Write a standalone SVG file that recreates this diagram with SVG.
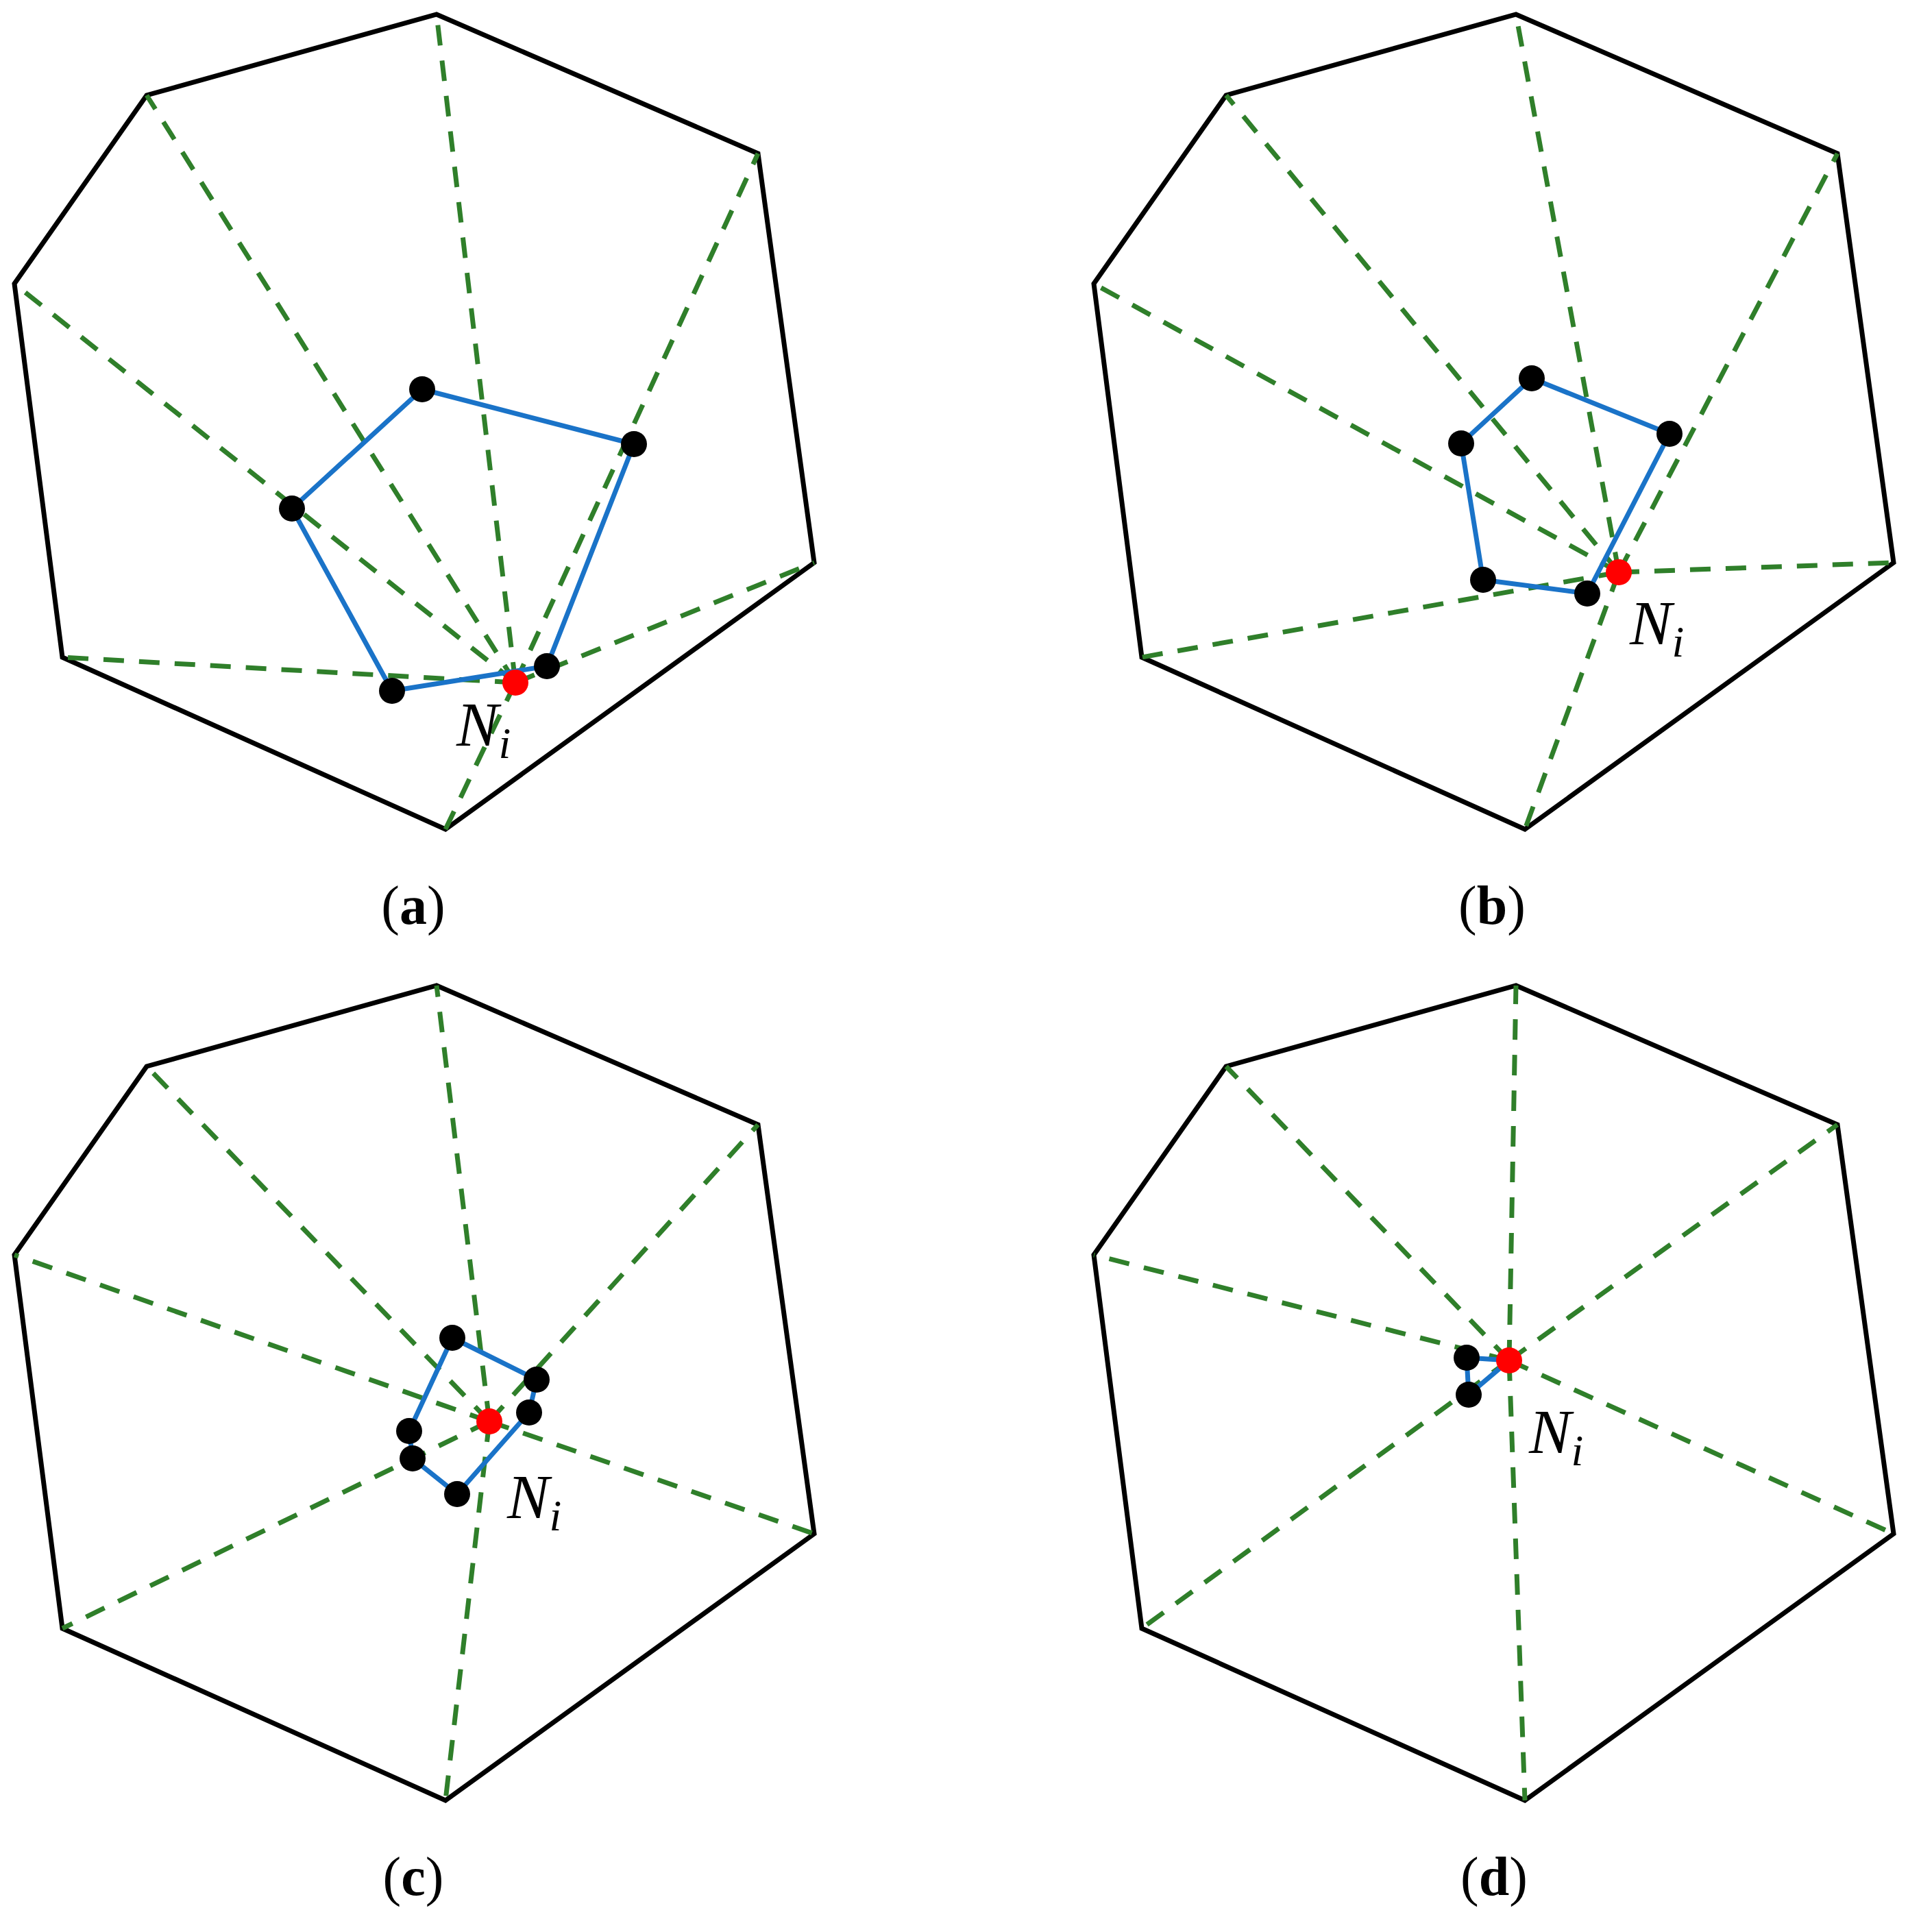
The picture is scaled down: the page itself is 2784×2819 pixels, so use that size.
<svg xmlns="http://www.w3.org/2000/svg" xmlns:xlink="http://www.w3.org/1999/xlink" width="2784" height="2819" viewBox="0 0 2784 2819">
<style>
.hept{fill:none;stroke:#000;stroke-width:7;stroke-linejoin:miter}
.dash{stroke:#2f7f2a;stroke-width:7;stroke-dasharray:30 22;fill:none}
.blue{fill:none;stroke:#1a73c8;stroke-width:7;stroke-linejoin:round}
.dot{fill:#000}
.red{fill:#ff0000}
.lab{font-family:"Liberation Serif",serif;font-size:80px;text-anchor:middle}
.ni{font-family:"Liberation Serif",serif;font-style:italic;font-size:92px}
</style>
<defs>
<polygon id="hp" class="hept" points="637,21 1106,224 1188,821 650,1210 91,959 21,414 214,139"/>
</defs>
<rect width="2784" height="2819" fill="#fff"/>
<g id="panel-a">
<use xlink:href="#hp"/>
<g id="connectors-a">
<path class="dash" d="M752,996L637,21M752,996L1106,224M752,996L1188,821M752,996L650,1210M752,996L91,959M752,996L21,414M752,996L214,139"/>
<polygon class="blue" points="616,568 925,648 798,972 572,1008 426,742"/>
</g>
<circle class="dot" cx="616" cy="568" r="19"/><circle class="dot" cx="925" cy="648" r="19"/><circle class="dot" cx="798" cy="972" r="19"/><circle class="dot" cx="572" cy="1008" r="19"/><circle class="dot" cx="426" cy="742" r="19"/>
<circle class="red" cx="752" cy="996" r="19"/>
<text class="ni" x="666" y="1088">N<tspan font-size="64" dy="18">i</tspan></text>
<text class="lab" x="603" y="1348">(<tspan font-weight="bold">a</tspan>)</text>
</g>
<g id="panel-b" transform="translate(1575,0)">
<use xlink:href="#hp"/>
<g id="connectors-b">
<path class="dash" d="M787,835L637,21M787,835L1106,224M787,835L1188,821M787,835L650,1210M787,835L91,959M787,835L21,414M787,835L214,139"/>
<polygon class="blue" points="660,552 861,633 741,866 589,846 557,647"/>
</g>
<circle class="dot" cx="660" cy="552" r="19"/><circle class="dot" cx="861" cy="633" r="19"/><circle class="dot" cx="741" cy="866" r="19"/><circle class="dot" cx="589" cy="846" r="19"/><circle class="dot" cx="557" cy="647" r="19"/>
<circle class="red" cx="787" cy="835" r="19"/>
<text class="ni" x="803" y="940">N<tspan font-size="64" dy="18">i</tspan></text>
<text class="lab" x="602" y="1348">(<tspan font-weight="bold">b</tspan>)</text>
</g>
<g id="panel-c" transform="translate(0,1417)">
<use xlink:href="#hp"/>
<g id="connectors-c">
<path class="dash" d="M714,657L637,21M714,657L1106,224M714,657L1188,821M714,657L650,1210M714,657L91,959M714,657L21,414M714,657L214,139"/>
<polygon class="blue" points="660,535 783,596 772,644 667,763 602,711 597,671"/>
</g>
<circle class="dot" cx="660" cy="535" r="19"/><circle class="dot" cx="783" cy="596" r="19"/><circle class="dot" cx="772" cy="644" r="19"/><circle class="dot" cx="667" cy="763" r="19"/><circle class="dot" cx="602" cy="711" r="19"/><circle class="dot" cx="597" cy="671" r="19"/>
<circle class="red" cx="714" cy="657" r="19"/>
<text class="ni" x="740" y="798">N<tspan font-size="64" dy="18">i</tspan></text>
<text class="lab" x="603" y="1348">(<tspan font-weight="bold">c</tspan>)</text>
</g>
<g id="panel-d" transform="translate(1575,1417)">
<use xlink:href="#hp"/>
<g id="connectors-d">
<path class="dash" d="M627,568L637,21M627,568L1106,224M627,568L1188,821M627,568L650,1210M627,568L91,959M627,568L21,414M627,568L214,139"/>
<polygon class="blue" points="627,568 565,564 568,618"/>
</g>
<circle class="dot" cx="565" cy="564" r="19"/><circle class="dot" cx="568" cy="618" r="19"/>
<circle class="red" cx="627" cy="568" r="19"/>
<text class="ni" x="656" y="703">N<tspan font-size="64" dy="18">i</tspan></text>
<text class="lab" x="605" y="1348">(<tspan font-weight="bold">d</tspan>)</text>
</g>
</svg>
